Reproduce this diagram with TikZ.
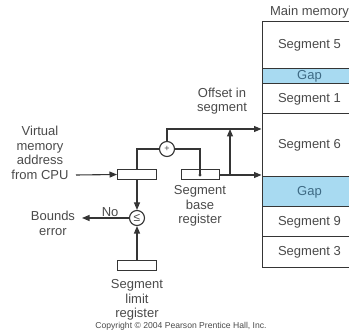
\documentclass[tikz,border=0pt]{standalone}
\usepackage{fontspec}
\setmainfont{Liberation Sans}
\usetikzlibrary{arrows.meta,calc}
\definecolor{ink}{HTML}{353535}
\definecolor{txt}{HTML}{4A4A4A}
\definecolor{gapfill}{HTML}{A8DAF1}
\definecolor{gaptxt}{HTML}{3E6A84}
\tikzset{
  wire/.style={draw=ink, line width=1.1pt},
  arr/.style={wire, -{Triangle[length=7.5pt,width=6pt]}},
  seg/.style={draw=ink, line width=1pt, fill=white, minimum width=95pt,
    inner sep=0pt, text=txt, font=\fontsize{13}{14.5}\selectfont},
  gapseg/.style={seg, fill=gapfill, text=gaptxt},
  reg/.style={draw=ink, line width=1pt, fill=white, minimum width=39pt,
    minimum height=10pt, inner sep=0pt},
  op/.style={circle, draw=ink, line width=1.1pt, fill=white, minimum size=15pt,
    inner sep=0pt, text=txt, font=\fontsize{12}{12}\selectfont},
  lbl/.style={text=txt, align=center, inner sep=0pt,
    font=\fontsize{13}{14.5}\selectfont},
}
\begin{document}
\begin{tikzpicture}[x=1pt, y=-1pt]
\useasboundingbox (0,0) rectangle (349,334);
\clip (0,0) rectangle (349,334);

% main memory column
\node[lbl] (mmtitle) at (309.5,12) {Main memory};
\node[seg,     minimum height=47pt] (s5) at (309.5,45.5)  {Segment 5};
\node[gapseg,  minimum height=15pt] (g1) at (309.5,76.5)  {Gap};
\node[seg,     minimum height=30pt] (s1) at (309.5,99)    {Segment 1};
\node[seg,     minimum height=63pt] (s6) at (309.5,145.5) {Segment 6};
\node[gapseg,  minimum height=30pt] (g2) at (309.5,192)   {Gap};
\node[seg,     minimum height=30pt] (s9) at (309.5,222)   {Segment 9};
\node[seg,     minimum height=31pt] (s3) at (309.5,252.5) {Segment 3};

% registers and operators
\node[reg] (vreg) at (137,174.5) {};
\node[reg, minimum width=38pt] (breg) at (200,175) {};
\node[reg] (lreg) at (137,265.5) {};
\node[op] (add) at (167,149) {\fontsize{9}{9}\selectfont +};
\node[op] (cmp) at (137,218) {≤};
\fill[ink] (breg.center) circle (1.6pt);

% labels
\node[lbl] (vaddr) at (40,153) {Virtual\\memory\\address\\from CPU};
\node[lbl] (offs) at (222,101) {Offset in\\segment};
\node[lbl] (bregl) at (200,206) {Segment\\base\\register};
\node[lbl] (lregl) at (137,300) {Segment\\limit\\register};
\node[lbl, anchor=north east, outer xsep=0pt] (berr) at (75,211) {Bounds\\error};
\node[text=txt, inner sep=0pt, font=\fontsize{8.6}{10}\selectfont] (copy)
  at (181,326) {Copyright © 2004 Pearson Prentice Hall, Inc.};

% connectors
\coordinate (cpu) at (76,175);
\coordinate (top) at (add.north |- 0,129);
\coordinate (branch) at (230,175);
\draw[arr] (cpu) -- (vreg.west);
\draw[wire] (vreg.north) |- (add.west);
\draw[wire] (add.east) -| (breg.center);
\draw[arr] (add.north) -- (top) -- (top -| s6.west);
\draw[arr] (breg.east) -- (breg.east -| s6.west);
\draw[arr] (branch) -- (branch |- top);
\draw[arr] (vreg.south) -- (cmp.north);
\draw[arr] (lreg.north) -- (cmp.south);
\draw[arr] (cmp.west) -- ($(berr.north east)+(7,7)$)
  node[pos=0.4, above=1pt, lbl] (no) {No};
\end{tikzpicture}
\end{document}
